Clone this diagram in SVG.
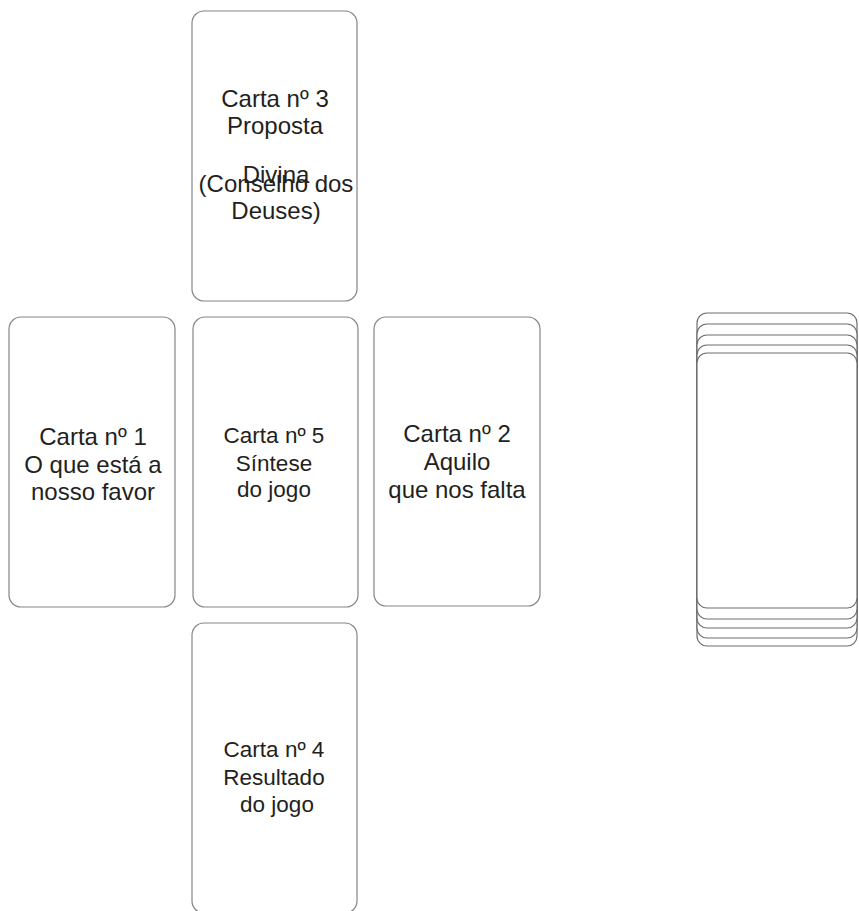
<svg xmlns="http://www.w3.org/2000/svg" width="859" height="911" viewBox="0 0 859 911">
<style>
.card{fill:#ffffff;stroke:#858585;stroke-width:1.2}
.deck{fill:#ffffff;stroke:#6e6e6e;stroke-width:1.2}
.t{font-family:"Liberation Sans",Arial,sans-serif;font-size:24px;fill:#231f20;text-anchor:middle}
.s{font-size:22.5px}
</style>
<rect width="859" height="911" fill="#ffffff"/>
<g id="card3">
<rect class="card" x="192" y="11" width="165" height="290" rx="12"/>
<text class="t" x="275" y="107">Carta nº 3</text>
<text class="t" x="275" y="134">Proposta</text>
<text class="t" x="276" y="183">Divina</text>
<text class="t" x="276" y="192">(Conselho dos</text>
<text class="t" x="276" y="219">Deuses)</text>
</g>
<g id="card1">
<rect class="card" x="9" y="317" width="166" height="290" rx="12"/>
<text class="t" x="93" y="445">Carta nº 1</text>
<text class="t" x="93" y="473">O que está a</text>
<text class="t" x="93" y="500">nosso favor</text>
</g>
<g id="card5">
<rect class="card" x="193" y="317" width="165" height="290" rx="12"/>
<text class="t s" x="274" y="443">Carta nº 5</text>
<text class="t s" x="274" y="471">Síntese</text>
<text class="t s" x="274" y="497">do jogo</text>
</g>
<g id="card2">
<rect class="card" x="374" y="317" width="166" height="289" rx="12"/>
<text class="t" x="457" y="442">Carta nº 2</text>
<text class="t" x="457" y="470">Aquilo</text>
<text class="t" x="457" y="498">que nos falta</text>
</g>
<g id="card4">
<rect class="card" x="192" y="623" width="165" height="290" rx="12"/>
<text class="t s" x="274" y="757">Carta nº 4</text>
<text class="t s" x="274" y="785">Resultado</text>
<text class="t s" x="277" y="812">do jogo</text>
</g>
<g id="deck">
<rect class="deck" x="697" y="313" width="160" height="333" rx="10"/>
<rect class="deck" x="697" y="324" width="160" height="314" rx="10"/>
<rect class="deck" x="697" y="335" width="160" height="293" rx="10"/>
<rect class="deck" x="697" y="345" width="160" height="274" rx="10"/>
<rect class="deck" x="697" y="353" width="160" height="255" rx="10"/>
</g>
</svg>
